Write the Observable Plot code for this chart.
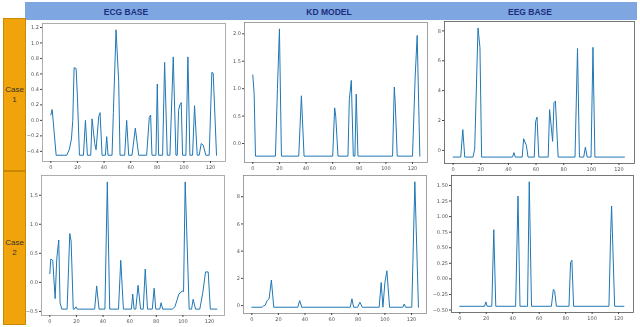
<!DOCTYPE html>
<html>
<head>
<meta charset="utf-8">
<script src="https://cdn.jsdelivr.net/npm/d3@7"></script>
<script src="https://cdn.jsdelivr.net/npm/@observablehq/plot@0.6"></script>
<style>
  html, body { margin: 0; padding: 0; background: #fff; }
  #root { position: relative; width: 640px; height: 327px; overflow: hidden; background: #fff; font-family: "Liberation Sans", Arial, sans-serif; }
  .hdr { position: absolute; left: 25px; top: 2px; width: 612px; height: 18px; background: #7ea6e0; }
  .hdr span { position: absolute; top: 0.5px; line-height: 18px; font-weight: bold; font-size: 8.5px; color: #1c2e80; transform: translateX(-50%); white-space: nowrap; }
  .case { position: absolute; left: 3px; width: 23px; background: #f0a30a; border: 1px solid #c98800; box-sizing: border-box; display: flex; align-items: center; justify-content: center; text-align: center; font-size: 8px; line-height: 10px; color: #333; }
  .panel { position: absolute; will-change: transform; }
  .panel svg text { -webkit-font-smoothing: antialiased; }
</style>
</head>
<body>
<div id="root">
  <div class="hdr" id="hdr"></div>
  <div class="case" style="top:18px;height:153px;">Case<br>1</div>
  <div class="case" style="top:171px;height:154px;">Case<br>2</div>
</div>
<script>
// ---------- text ----------
const columnTitles = ["ECG BASE", "KD MODEL", "EEG BASE"];
const columnTitleX = [126, 329, 530];
const xTicks = [0, 20, 40, 60, 80, 100, 120];

// ---------- Case 1 / ECG BASE ----------
const ecg1X = [0, 1, 2.5, 4, 12, 14, 15.5, 16.5, 17.5, 19, 20, 21.5, 24.5, 26, 27.5, 30, 31, 33, 34, 36, 37, 38.5, 41, 42, 43, 46, 47, 49, 51, 52, 55.5, 57, 58.5, 61, 63.5, 66, 72, 74, 75, 76, 79, 80, 81, 84, 85.5, 87.5, 89.5, 92, 94, 95, 96, 97, 98, 99, 101.5, 103, 104.5, 106.5, 108, 110, 111.5, 113, 114.5, 116.5, 119, 121, 122, 124.5];
const ecg1Y = [0.07, 0.14, -0.15, -0.45, -0.45, -0.37, -0.24, 0.0, 0.68, 0.67, 0.3, -0.45, -0.45, 0.0, -0.45, -0.45, 0.02, -0.3, -0.38, 0.05, 0.1, -0.45, -0.45, -0.21, -0.45, -0.45, 0.1, 1.17, 0.5, -0.45, -0.45, 0.0, -0.45, -0.45, -0.1, -0.45, -0.45, 0.04, 0.07, -0.45, -0.45, 0.47, -0.45, -0.45, 0.75, -0.45, -0.45, 0.82, -0.45, -0.45, 0.13, 0.2, 0.23, -0.45, -0.45, 0.82, -0.45, -0.45, 0.19, -0.45, -0.45, -0.3, -0.32, -0.45, -0.45, 0.62, 0.61, -0.45];
const ecg1YTicks = [-0.4, -0.2, 0.0, 0.2, 0.4, 0.6, 0.8, 1.0, 1.2];

// ---------- Case 1 / KD MODEL ----------
const kd1X = [0, 1, 2, 17, 18.5, 20, 21.5, 34.5, 36.5, 38.5, 60, 61.5, 62.3, 64, 71.5, 72.5, 74, 75.5, 76.7, 77.7, 79, 105, 106.3, 107, 108.5, 120, 122, 123.5, 125.5];
const kd1Y = [1.25, 0.9, -0.23, -0.23, 1.0, 2.09, -0.23, -0.23, 0.87, -0.23, -0.23, 0.65, 0.5, -0.23, -0.23, 0.8, 1.15, -0.23, -0.23, 0.9, -0.23, -0.23, 1.03, 0.75, -0.23, -0.23, 1.23, 1.97, -0.23];
const kd1YTicks = [0.0, 0.5, 1.0, 1.5, 2.0];

// ---------- Case 1 / EEG BASE ----------
const eeg1X = [0, 5.5, 7, 8.4, 14.4, 15.6, 18, 19.4, 20.6, 43, 44, 45, 50, 51, 53, 54.2, 58.7, 59.7, 60.7, 62, 68.8, 69.8, 72, 73, 74, 76, 88.2, 90, 91.4, 94.5, 95.7, 97, 99.8, 101.2, 102.6, 124];
const eeg1Y = [-0.45, -0.45, 1.39, -0.45, -0.45, 0.1, 8.2, 6.9, -0.45, -0.45, -0.15, -0.45, -0.45, 0.78, 0.33, -0.45, -0.45, 1.94, 2.23, -0.45, -0.45, 2.73, 0.6, 3.2, 3.3, -0.45, -0.45, 6.82, -0.45, -0.45, 0.22, -0.45, -0.45, 6.9, -0.45, -0.45];
const eeg1YTicks = [0, 2, 4, 6, 8];

// ---------- Case 2 / ECG BASE ----------
const ecg2X = [0, 0.7, 2.2, 4, 5.2, 6.7, 7.7, 9, 13, 15, 16, 17.6, 18.5, 19.6, 20.5, 33.7, 35.2, 37, 41.4, 43.2, 45, 51.6, 53.3, 55.3, 61.3, 62.3, 63.3, 64.6, 66.3, 68.2, 70.2, 71.7, 73.4, 77, 78.4, 79.6, 82.6, 83.6, 84.8, 92, 94, 97, 99.5, 100.5, 101.7, 104.7, 106.5, 107.7, 109.5, 112.7, 115, 117, 119, 120.6, 125.5];
const ecg2Y = [0.15, 0.4, 0.38, -0.28, 0.4, 0.73, -0.35, -0.46, -0.46, 0.84, 0.71, -0.46, -0.46, -0.42, -0.46, -0.46, -0.06, -0.46, -0.46, 1.73, -0.46, -0.46, 0.38, -0.46, -0.46, -0.2, -0.46, -0.46, -0.05, -0.46, -0.46, 0.23, -0.46, -0.46, -0.1, -0.46, -0.46, -0.35, -0.46, -0.46, -0.42, -0.2, -0.15, -0.16, 1.73, -0.46, -0.46, -0.29, -0.46, -0.46, -0.17, 0.18, 0.18, -0.46, -0.46];
const ecg2YTicks = [-0.5, 0.0, 0.5, 1.0, 1.5];

// ---------- Case 2 / KD MODEL ----------
const kd2X = [0, 7.7, 9, 10, 11.5, 13, 14.7, 16.5, 34.5, 36, 37.5, 74, 75.2, 76.5, 79.5, 81.2, 83, 95.7, 97.2, 98.5, 100, 101.5, 103.5, 113.5, 114.5, 115.5, 120.2, 122.5, 125.2];
const kd2Y = [-0.12, -0.12, 0.0, 0.02, 0.37, 0.5, 1.88, -0.12, -0.12, 0.37, -0.12, -0.12, 0.5, -0.12, -0.12, 0.25, -0.12, -0.12, 1.7, -0.12, 1.7, 2.56, -0.12, -0.12, 0.12, -0.12, -0.12, 9.1, -0.12];
const kd2YTicks = [0, 2, 4, 6, 8];

// ---------- Case 2 / EEG BASE ----------
const eeg2X = [0, 18.7, 19.7, 20.7, 24.2, 25.7, 27.2, 42.2, 44, 45.5, 51.2, 52.5, 54.2, 69.2, 70.7, 71.7, 73, 82.5, 83.7, 84.7, 86, 112.7, 114, 114.7, 117, 124];
const eeg2Y = [-0.44, -0.44, -0.37, -0.44, -0.44, 0.79, -0.44, -0.44, 1.33, -0.44, -0.44, 1.56, -0.44, -0.44, -0.17, -0.2, -0.44, -0.44, 0.26, 0.3, -0.44, -0.44, 0.74, 1.17, -0.44, -0.44];
const eeg2YTicks = [-0.5, -0.25, 0.0, 0.25, 0.5, 0.75, 1.0, 1.25, 1.5];

// ---------- build ----------
const root = document.getElementById("root");
const hdr = document.getElementById("hdr");
columnTitles.forEach((t, i) => {
  const s = document.createElement("span");
  s.textContent = t;
  s.style.left = (columnTitleX[i] - 25) + "px";
  hdr.appendChild(s);
});

const panels = [
  {xs: ecg1X, ys: ecg1Y, ticks: ecg1YTicks, fmt: ".1f", box: [42, 225, 23, 161], yd: [-0.531, 1.251], frame: "#9a9a9a", mL: 20},
  {xs: kd1X, ys: kd1Y, ticks: kd1YTicks, fmt: ".1f", box: [244, 427, 22, 162], yd: [-0.346, 2.206], frame: "#8a8a8a", mL: 20},
  {xs: eeg1X, ys: eeg1Y, ticks: eeg1YTicks, fmt: "d", box: [444, 634, 21, 163], yd: [-0.88, 8.63], frame: "#555", mL: 20},
  {xs: ecg2X, ys: ecg2Y, ticks: ecg2YTicks, fmt: ".1f", box: [41, 224, 175, 315], yd: [-0.57, 1.84], frame: "#9a9a9a", mL: 20},
  {xs: kd2X, ys: kd2Y, ticks: kd2YTicks, fmt: "d", box: [243, 426, 175, 313], yd: [-0.58, 9.56], frame: "#8a8a8a", mL: 20},
  {xs: eeg2X, ys: eeg2Y, ticks: eeg2YTicks, fmt: ".2f", box: [451, 633, 175, 312], yd: [-0.54, 1.66], frame: "#555", mL: 24}
];

panels.forEach(p => {
  const [x0, x1, y0, y1] = p.box;
  const mL = p.mL, mR = 2, mT = 2, mB = 10;
  const idx = d3.range(p.xs.length);
  const svg = Plot.plot({
    width: (x1 - x0) + mL + mR,
    height: (y1 - y0) + mT + mB,
    marginLeft: mL, marginRight: mR, marginTop: mT, marginBottom: mB,
    style: {background: "transparent", color: "#444", fontFamily: "DejaVu Sans, sans-serif", fontSize: "5px", overflow: "visible"},
    x: {domain: [-6.25, 131.25]},
    y: {domain: p.yd},
    marks: [
      Plot.line(idx, {x: i => p.xs[i], y: i => p.ys[i], stroke: "#1f77b4", strokeWidth: 1}),
      Plot.frame({stroke: p.frame, strokeWidth: 0.8}),
      Plot.axisX({ticks: xTicks, tickSize: 2, tickPadding: 1.5, fontSize: 5, fill: "#555", label: null, tickFormat: d3.format("d")}),
      Plot.axisY({ticks: p.ticks, tickSize: 2, tickPadding: 1.5, fontSize: 5, fill: "#555", label: null, tickFormat: d3.format(p.fmt)})
    ]
  });
  const wrap = document.createElement("div");
  wrap.className = "panel";
  wrap.style.left = (x0 - mL) + "px";
  wrap.style.top = (y0 - mT) + "px";
  wrap.appendChild(svg);
  root.appendChild(wrap);
});
</script>
</body>
</html>
